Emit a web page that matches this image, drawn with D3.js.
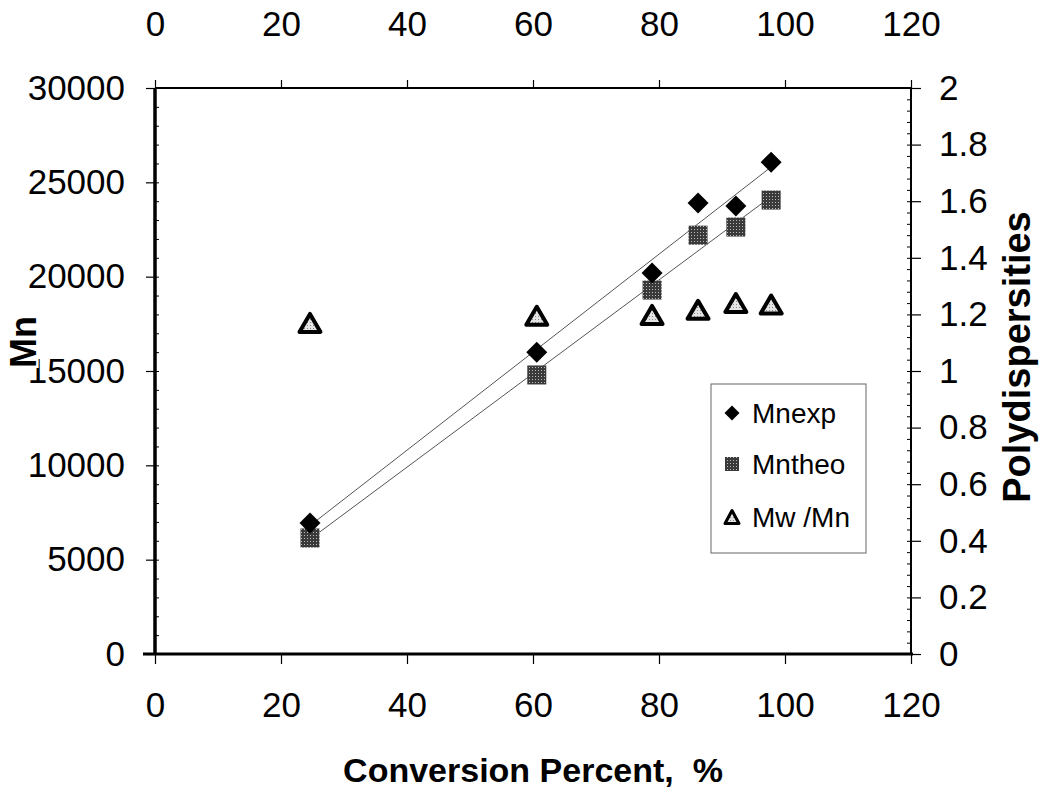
<!DOCTYPE html>
<html><head><meta charset="utf-8">
<script src="https://cdnjs.cloudflare.com/ajax/libs/d3/7.8.5/d3.min.js"></script>
<style>body{margin:0;background:#fff}svg{display:block}text{font-family:"Liberation Sans",Arial,sans-serif;fill:#000}</style>
</head><body><svg id="c" width="1043" height="789"></svg>
<script>
const conversion = [24.6, 60.6, 78.9, 86.2, 92.2, 97.8];
const mnExp = [6940, 16000, 20190, 23900, 23740, 26070];
const mnTheo = [6150, 14790, 19290, 22200, 22630, 24060];
const mwMn = [1.17, 1.195, 1.198, 1.216, 1.24, 1.235];
const xTicks = [0, 20, 40, 60, 80, 100, 120];
const yTicks = [0, 5000, 10000, 15000, 20000, 25000, 30000];
const y2Ticks = [0, 0.2, 0.4, 0.6, 0.8, 1, 1.2, 1.4, 1.6, 1.8, 2];
const legendLabels = ["Mnexp", "Mntheo", "Mw /Mn"];

const svg = d3.select("#c");
const L = 155, R = 911, T = 88, B = 654;
const x = d3.scaleLinear().domain([0, 120]).range([L, R]);
const y = d3.scaleLinear().domain([0, 30000]).range([B, T]);
const y2 = d3.scaleLinear().domain([0, 2]).range([B, T]);

const defs = svg.append("defs");
const pat = defs.append("pattern").attr("id","dith").attr("width",3).attr("height",3).attr("patternUnits","userSpaceOnUse");
pat.append("rect").attr("width",3).attr("height",3).attr("fill","#3a3a3a");
pat.append("rect").attr("x",1).attr("y",1).attr("width",1).attr("height",1).attr("fill","#bbb");
const pat2 = defs.append("pattern").attr("id","dith2").attr("width",3).attr("height",3).attr("patternUnits","userSpaceOnUse");
pat2.append("rect").attr("width",3).attr("height",3).attr("fill","#e4e4e4");
pat2.append("rect").attr("x",1).attr("y",1).attr("width",1).attr("height",1).attr("fill","#888");

function styleAxis(g, fs){
  g.select(".domain").remove();
  g.selectAll(".tick line").attr("stroke","#000").attr("stroke-width",1.2);
  g.selectAll(".tick text").style("font-size", fs+"px");
}
const fmt = d => String(d);
const gx = svg.append("g").attr("transform",`translate(0,${B})`)
  .call(d3.axisBottom(x).tickValues(xTicks).tickSize(10).tickPadding(28).tickFormat(fmt));
styleAxis(gx, 35);
const gxt = svg.append("g").attr("transform",`translate(0,${T})`)
  .call(d3.axisTop(x).tickValues(xTicks).tickSize(8).tickPadding(44).tickFormat(fmt));
styleAxis(gxt, 35);
const gy = svg.append("g").attr("transform",`translate(${L},0)`)
  .call(d3.axisLeft(y).tickValues(yTicks).tickSize(9).tickPadding(21).tickFormat(fmt));
styleAxis(gy, 35);
const gy2 = svg.append("g").attr("transform",`translate(${R},0)`)
  .call(d3.axisRight(y2).tickValues(y2Ticks).tickSize(10).tickPadding(18).tickFormat(d3.format("~g")));
styleAxis(gy2, 35);

const gym = svg.append("g").attr("transform",`translate(${L},0)`)
  .call(d3.axisRight(y).tickValues(d3.range(0,30001,1000)).tickSize(4).tickFormat(""));
gym.select(".domain").remove(); gym.selectAll("line").attr("stroke","#000");
const gy2m = svg.append("g").attr("transform",`translate(${R},0)`)
  .call(d3.axisLeft(y2).tickValues(d3.range(0,51).map(i=>i*0.04)).tickSize(4).tickFormat(""));
gy2m.select(".domain").remove(); gy2m.selectAll("line").attr("stroke","#000");

svg.append("line").attr("x1",L).attr("x2",R).attr("y1",T).attr("y2",T).attr("stroke","#000").attr("stroke-width",2);
svg.append("line").attr("x1",R).attr("x2",R).attr("y1",T).attr("y2",B).attr("stroke","#000").attr("stroke-width",2);
svg.append("line").attr("x1",L).attr("x2",L).attr("y1",T).attr("y2",B).attr("stroke","#000").attr("stroke-width",3.5);
svg.append("line").attr("x1",L-12).attr("x2",R+2).attr("y1",B).attr("y2",B).attr("stroke","#000").attr("stroke-width",3);

function fit(xs, ys){
  const mx = d3.mean(xs), my = d3.mean(ys);
  let sxy=0, sxx=0; xs.forEach((v,i)=>{sxy+=(v-mx)*(ys[i]-my); sxx+=(v-mx)*(v-mx);});
  const b = sxy/sxx; return v => my + b*(v-mx);
}
[mnExp, mnTheo].forEach(s=>{
  const f = fit(conversion, s);
  const x0 = d3.min(conversion), x1 = d3.max(conversion);
  svg.append("line").attr("x1",x(x0)).attr("y1",y(f(x0))).attr("x2",x(x1)).attr("y2",y(f(x1)))
    .attr("stroke","#555").attr("stroke-width",1);
});

const diamond = (cx,cy,s)=>`M${cx},${cy-s}L${cx+s},${cy}L${cx},${cy+s}L${cx-s},${cy}Z`;
const tri = (cx,cy,w,h)=>`M${cx},${cy-h/2}L${cx+w/2},${cy+h/2}L${cx-w/2},${cy+h/2}Z`;
function drawTri(g,cx,cy,w,h,sw){
  g.append("path").attr("d",tri(cx,cy,w,h)).attr("fill","url(#dith2)").attr("stroke","#000").attr("stroke-width",sw).attr("stroke-linejoin","round");
}
function drawSq(g,cx,cy,s){
  g.append("rect").attr("x",cx-s/2).attr("y",cy-s/2).attr("width",s).attr("height",s).attr("fill","url(#dith)");
}
const gm = svg.append("g");
conversion.forEach((c,i)=> drawTri(gm, x(c), y2(mwMn[i]), 21, 18, 4));
conversion.forEach((c,i)=> drawSq(gm, x(c), y(mnTheo[i]), 19));
conversion.forEach((c,i)=> gm.append("path").attr("d",diamond(x(c),y(mnExp[i]),10.5)).attr("fill","#000"));

const lg = svg.append("g");
lg.append("rect").attr("x",711).attr("y",384).attr("width",155).attr("height",169).attr("fill","#fff").attr("stroke","#666").attr("stroke-width",1);
const ly = [413, 464, 517];
lg.append("path").attr("d",diamond(732,ly[0],7.5)).attr("fill","#000");
drawSq(lg,732,ly[1],14);
drawTri(lg,732,ly[2],14,13,3);
legendLabels.forEach((t,i)=> lg.append("text").attr("x",752).attr("y",ly[i]).attr("dy","0.36em").style("font-size","28px").text(t));

svg.append("text").attr("transform","translate(36,342) rotate(-90)").attr("text-anchor","middle")
  .style("font-size","36px").style("font-weight","bold")
  .attr("stroke","#fff").attr("stroke-width",5).attr("paint-order","stroke").text("Mn");
svg.append("text").attr("transform","translate(1030,357) rotate(-90)").attr("text-anchor","middle")
  .style("font-size","38px").style("font-weight","bold").text("Polydispersities");
svg.append("text").attr("x",533).attr("y",782).attr("text-anchor","middle").attr("xml:space","preserve")
  .style("font-size","34px").style("font-weight","bold").text("Conversion Percent,  %");
</script></body></html>
